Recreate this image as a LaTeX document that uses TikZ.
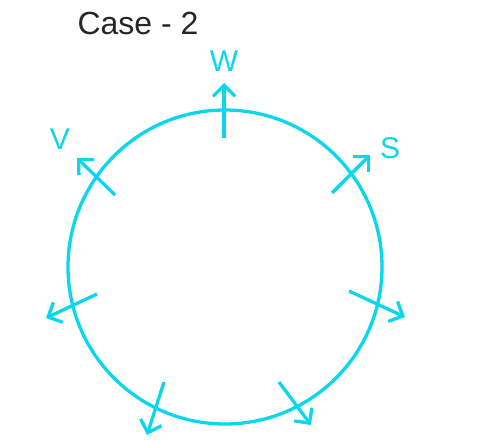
\documentclass[tikz,border=0pt]{standalone}
\usepackage{fontspec}
\setmainfont{Liberation Sans}
\usetikzlibrary{arrows.meta}
\definecolor{ringcyan}{RGB}{10,214,238}

\begin{document}
\begin{tikzpicture}[x=1pt,y=-1pt,>={Straight Barb[length=11pt,width=22pt]},
  ring/.style={draw=ringcyan,line width=3.3pt},
  label/.style={text=ringcyan,font=\fontsize{30}{34}\selectfont}]
\useasboundingbox (0,0) rectangle (478,439);

% heading
\node[text=black!85,font=\fontsize{32}{38}\selectfont] (title) at (138,23) {Case - 2};

% the ring
\draw[ring] (225,267) circle[radius=157];

% arrows through the ring: name / tail x,y / head x,y
\foreach \nm/\ax/\ay/\bx/\by in {w/224/138/224/83,
                                 v/115/195/77/158,
                                 s/332/193/370/155,
                                 l/97/294/46/318,
                                 r/349/291/405/317,
                                 bl/164/382/147/435,
                                 br/279/382/311/425}{
  \coordinate (\nm tail) at (\ax,\ay);
  \coordinate (\nm head) at (\bx,\by);
  \draw[ring,->] (\nm tail) -- (\nm head);
}

% letters
\node[label] (wlab) at (224,61) {W};
\node[label] (vlab) at (60,139) {V};
\node[label] (slab) at (390,148) {S};

\end{tikzpicture}
\end{document}
